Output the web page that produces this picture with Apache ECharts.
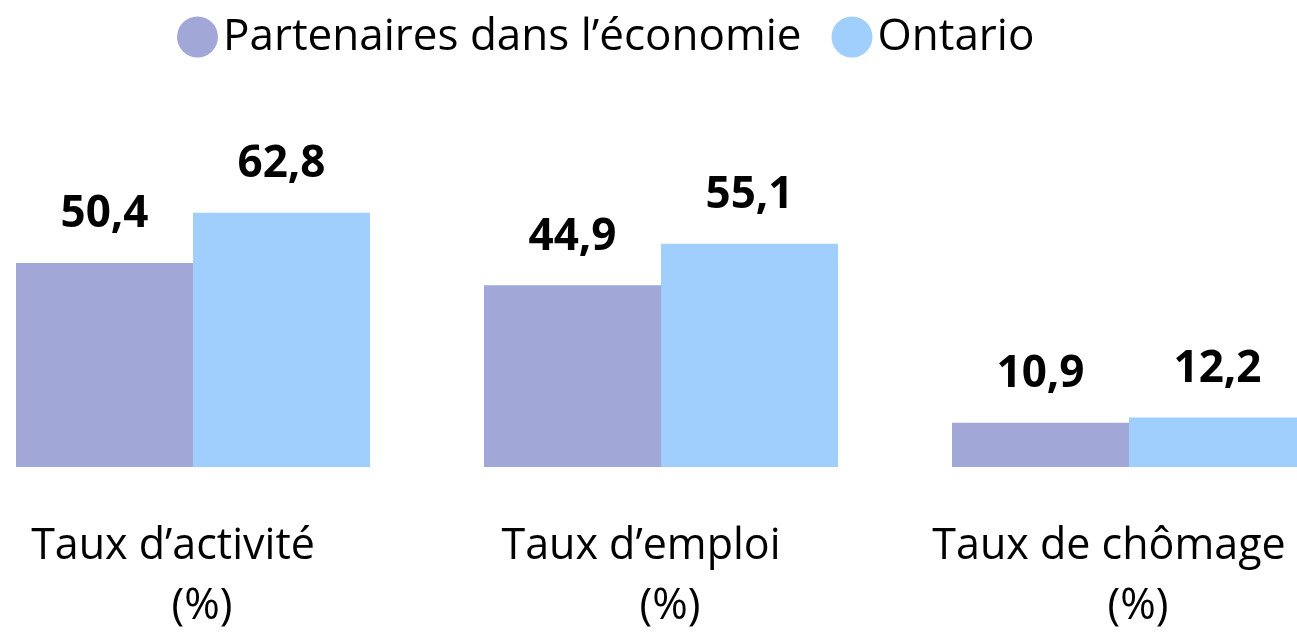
<!DOCTYPE html>
<html>
<head>
<meta charset="utf-8">
<script src="https://cdn.jsdelivr.net/npm/echarts@6/dist/echarts.min.js"></script>
<style>
  html, body { margin: 0; padding: 0; background: #fff; }
  #chart { width: 1297px; height: 638px; }
</style>
</head>
<body>
<div id="chart"></div>
<script>
// catégories et valeurs
const categories = ['Taux d\u2019activité', 'Taux d\u2019emploi', 'Taux de chômage'];
const unit = '(%)';
const partenaires = [50.4, 44.9, 10.9];
const ontario = [62.8, 55.1, 12.2];
const seriesNames = ['Partenaires dans l\u2019économie', 'Ontario'];
const colors = ['#a1a8d8', '#a0cffe'];

const FONT = '"Open Sans", "Noto Sans", sans-serif';

let chart = echarts.init(document.getElementById('chart'));

// libellé de valeur en format français
function frLabel(p) {
    return p.value.toFixed(1).replace('.', ',');
}

function makeSeries(name, data, color) {
    return {
        name: name,
        type: 'bar',
        data: data,
        barWidth: 177,
        barGap: '0%',
        itemStyle: { color: color },
        label: {
            show: true,
            position: 'top',
            distance: 26,
            formatter: frLabel,
            color: '#000',
            fontFamily: FONT,
            fontWeight: 'bold',
            fontSize: 44
        }
    };
}

let option = {
    animation: false,
    color: colors,
    legend: {
        top: 10,
        left: 172,
        itemWidth: 41,
        itemHeight: 41,
        itemGap: 30,
        icon: 'circle',
        textStyle: { fontFamily: FONT, fontSize: 44, color: '#000' },
        data: seriesNames
    },
    // la grille déborde à droite : la dernière barre est coupée
    grid: { left: -41, width: 1404, top: 62, bottom: 171, outerBoundsMode: 'none', containLabel: false },
    xAxis: {
        type: 'category',
        data: categories,
        axisLine: { show: false },
        axisTick: { show: false },
        axisLabel: {
            interval: 0,
            margin: 50,
            color: '#000',
            formatter: function (v) { return '{a|' + v + '}\n{b|' + unit + '}'; },
            rich: {
                a: { fontFamily: FONT, fontSize: 43, lineHeight: 60, color: '#000', padding: [0, 40, 0, 0] },
                b: { fontFamily: FONT, fontSize: 43, lineHeight: 60, color: '#000', padding: [0, 0, 0, 18] }
            }
        }
    },
    yAxis: {
        type: 'value',
        min: 0,
        max: 100,
        show: false,
        splitLine: { show: false }
    },
    series: [
        makeSeries(seriesNames[0], partenaires, colors[0]),
        makeSeries(seriesNames[1], ontario, colors[1])
    ]
};

chart.setOption(option);
</script>
</body>
</html>
